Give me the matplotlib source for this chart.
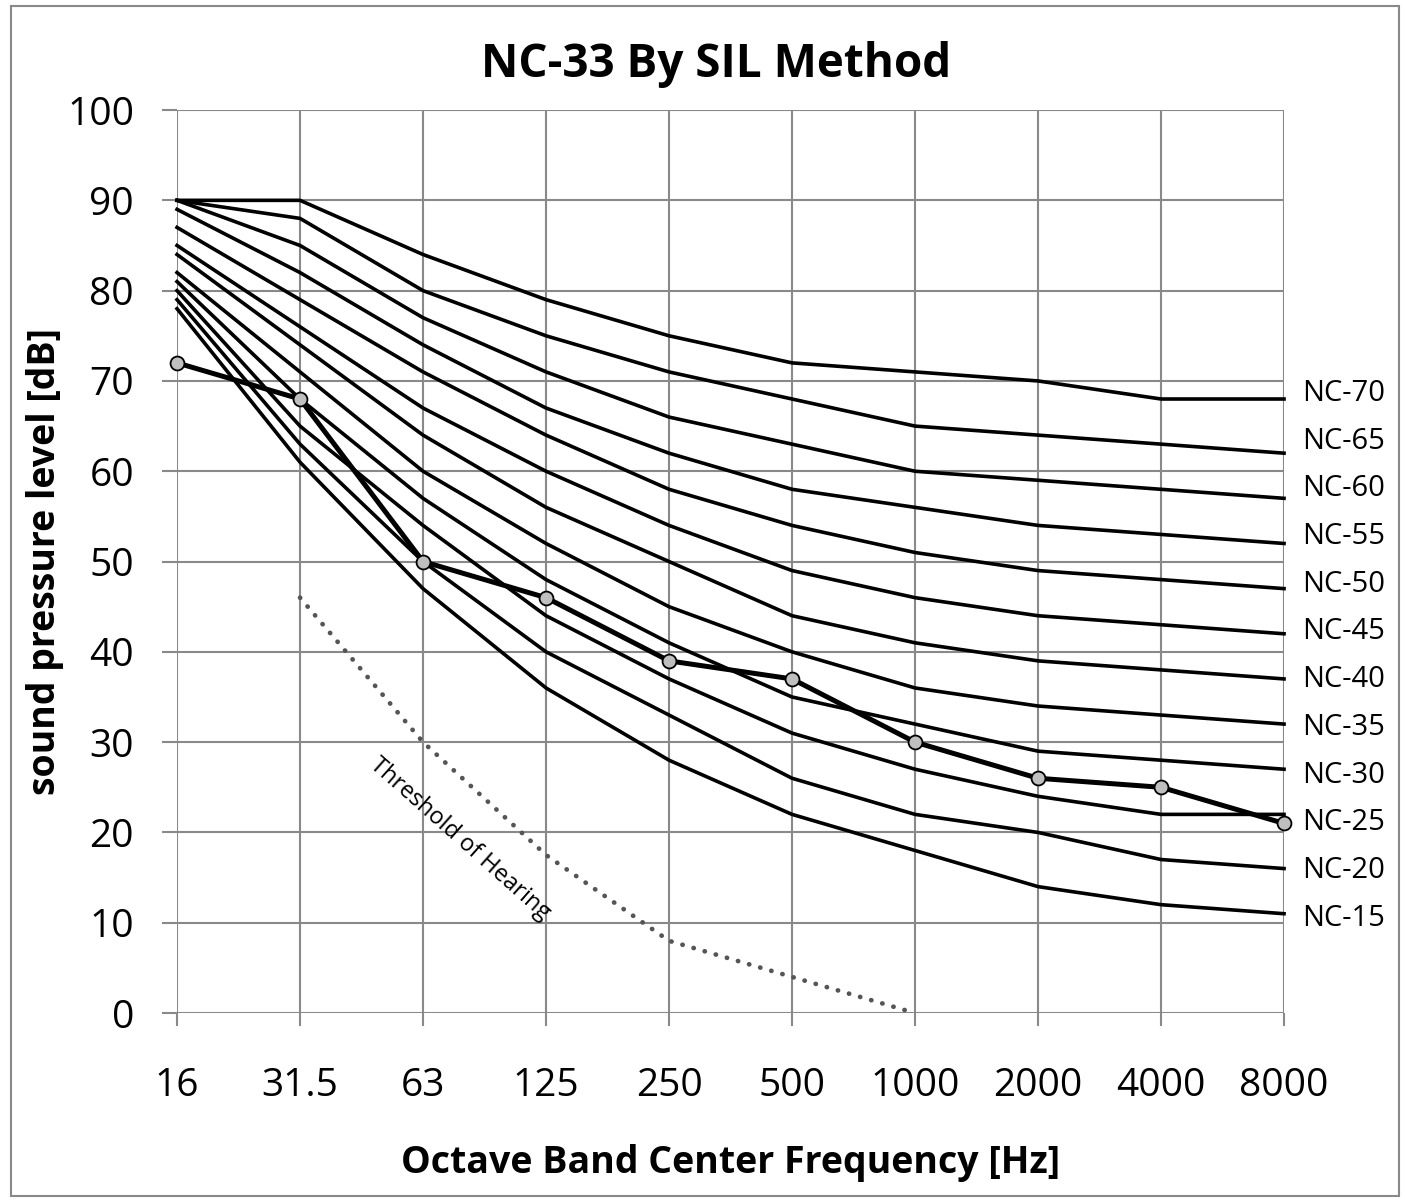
import matplotlib.pyplot as plt
from matplotlib.patches import Rectangle

plt.rcParams['font.family'] = ['Open Sans', 'DejaVu Sans']

freqs = ["16", "31.5", "63", "125", "250", "500", "1000", "2000", "4000", "8000"]

nc_curves = {
    "NC-70": [90, 90, 84, 79, 75, 72, 71, 70, 68, 68],
    "NC-65": [90, 88, 80, 75, 71, 68, 65, 64, 63, 62],
    "NC-60": [90, 85, 77, 71, 66, 63, 60, 59, 58, 57],
    "NC-55": [89, 82, 74, 67, 62, 58, 56, 54, 53, 52],
    "NC-50": [87, 79, 71, 64, 58, 54, 51, 49, 48, 47],
    "NC-45": [85, 76, 67, 60, 54, 49, 46, 44, 43, 42],
    "NC-40": [84, 74, 64, 56, 50, 44, 41, 39, 38, 37],
    "NC-35": [82, 71, 60, 52, 45, 40, 36, 34, 33, 32],
    "NC-30": [81, 68, 57, 48, 41, 35, 32, 29, 28, 27],
    "NC-25": [80, 65, 54, 44, 37, 31, 27, 24, 22, 22],
    "NC-20": [79, 63, 50, 40, 33, 26, 22, 20, 17, 16],
    "NC-15": [78, 61, 47, 36, 28, 22, 18, 14, 12, 11],
}

measured = [72, 68, 50, 46, 39, 37, 30, 26, 25, 21]

threshold_idx = [1, 2, 3, 4, 5, 6]
threshold = [46, 30, 17.5, 8, 4, 0]

grid_col = '#898989'

fig = plt.figure(figsize=(14.05, 12), dpi=100)
fig.patches.append(Rectangle((0.008, 0.003), 0.988, 0.992, transform=fig.transFigure,
                             fill=False, edgecolor=grid_col, lw=1.5))
ax = fig.add_axes([0.126, 0.1558, 0.7879, 0.7525])

x = list(range(len(freqs)))
# curve labels sit in an evenly spaced column on the right
for i, (name, vals) in enumerate(nc_curves.items()):
    ax.plot(x, vals, color='black', lw=2.6, clip_on=False, zorder=3)
    ax.text(9.15, 68.6 - i * 5.28, name, fontsize=21, va='center', ha='left')

ax.plot(threshold_idx, threshold, color='#555555', lw=3.4, ls=(0, (0.05, 2.4)),
        dash_capstyle='round', zorder=2)
ax.text(2.3, 19.3, "Threshold of Hearing", rotation=-41.5, fontsize=17,
        ha='center', va='center')

ax.plot(x, measured, color='black', lw=3.6, marker='o', markersize=10,
        markerfacecolor='#bfbfbf', markeredgecolor='black', markeredgewidth=1.3,
        clip_on=False, zorder=4)

ax.set_xlim(0, 9)
ax.set_ylim(0, 100)
ax.set_xticks(x)
ax.set_xticklabels(freqs)
ax.set_yticks(range(0, 101, 10))
ax.grid(True, color=grid_col, lw=1.5)
ax.set_axisbelow(True)
for s in ax.spines.values():
    s.set_visible(False)
ax.tick_params(axis='x', length=9, width=1.5, color=grid_col, labelsize=28, pad=30)
ax.tick_params(axis='y', length=11, width=1.5, color=grid_col, labelsize=28, pad=20)

ax.set_title("NC-33 By SIL Method", fontsize=33, fontweight='bold', pad=24, x=0.487)
ax.set_xlabel("Octave Band Center Frequency [Hz]", fontsize=27, fontweight='bold', labelpad=28)
ax.set_ylabel("sound pressure level [dB]", fontsize=27, fontweight='bold', labelpad=2)

fig.savefig("out.png", dpi=100)
